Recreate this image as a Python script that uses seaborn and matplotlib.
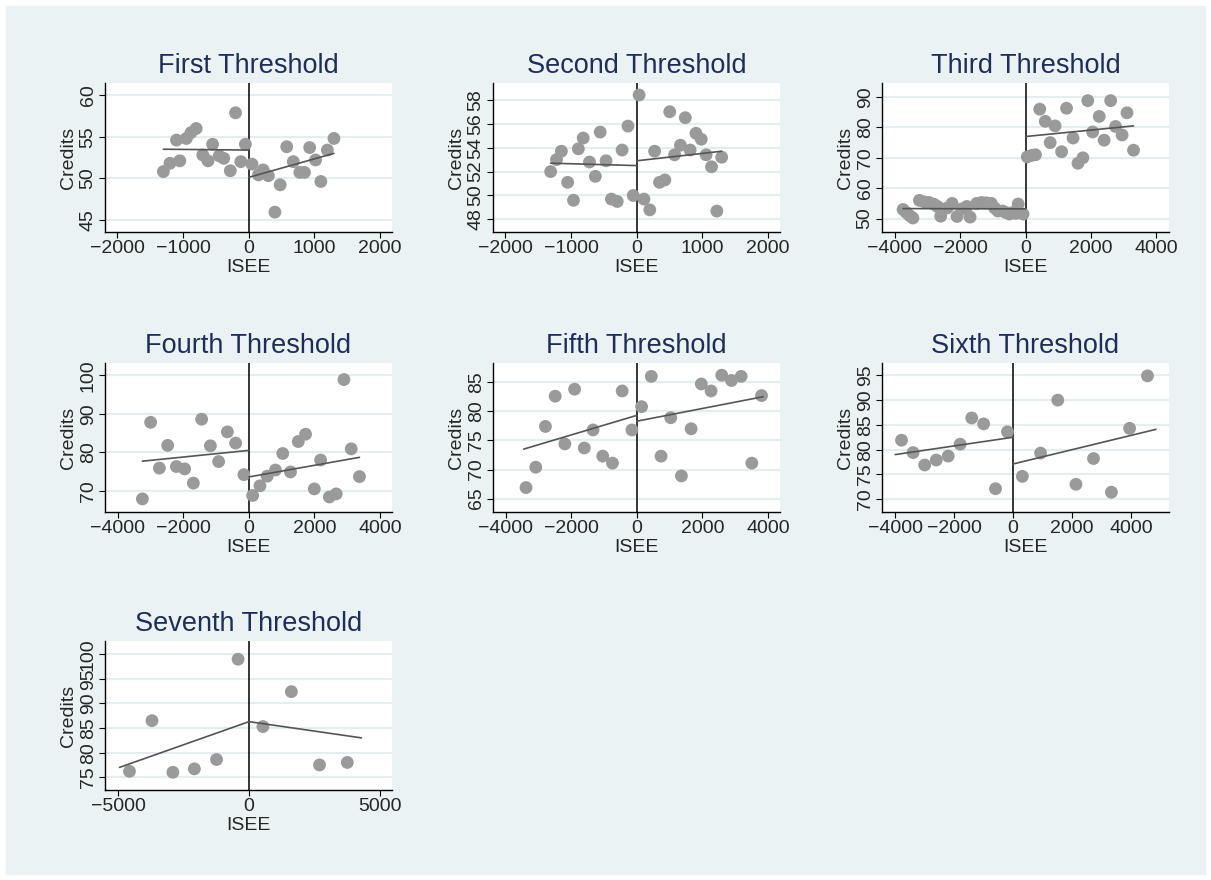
import numpy as np
import pandas as pd
import matplotlib
matplotlib.use("Agg")
import matplotlib.pyplot as plt
import seaborn as sns

# ── Data ─────────────────────────────────────────────────────────────────────
titles = ["First Threshold", "Second Threshold", "Third Threshold",
          "Fourth Threshold", "Fifth Threshold", "Sixth Threshold",
          "Seventh Threshold"]

x1 = [-1300, -1200, -1100, -1050, -950, -880, -800, -700, -620, -550, -450, -380, -280, -200, -120, -50,
      50, 150, 220, 300, 400, 480, 580, 680, 780, 850, 930, 1020, 1100, 1200, 1300]
y1 = [50.8, 51.8, 54.6, 52.1, 54.8, 55.5, 56.0, 52.8, 52.1, 54.1, 52.7, 52.4, 50.9, 57.9, 52.0, 54.1,
      51.7, 50.4, 51.0, 50.3, 45.9, 49.2, 53.8, 52.0, 50.7, 50.7, 53.7, 52.2, 49.6, 53.4, 54.8]

x2 = [-1311, -1222, -1148, -1052, -963, -889, -815, -719, -630, -556, -467, -385, -296, -222, -133, -52,
      37, 111, 200, 274, 348, 430, 504, 578, 667, 741, 815, 904, 985, 1059, 1141, 1222, 1296]
y2 = [52.0, 53.0, 53.7, 51.1, 49.6, 53.9, 54.8, 52.8, 51.6, 55.3, 52.9, 49.7, 49.5, 53.8, 55.8, 50.0,
      58.4, 49.7, 48.8, 53.7, 51.1, 51.3, 57.0, 53.4, 54.2, 56.5, 53.8, 55.2, 54.7, 53.4, 52.4, 48.7, 53.2]

x3 = [-3750, -3650, -3550, -3450, -3250, -3100, -2950, -2800, -2700, -2600, -2400, -2250, -2100, -1950,
      -1800, -1700, -1500, -1350, -1200, -1050, -950, -850, -700, -600, -500, -400, -300, -230, -80,
      50, 180, 300, 430, 600, 750, 900, 1100, 1250, 1450, 1600, 1750, 1900, 2050, 2250, 2400, 2600,
      2750, 2950, 3100, 3300]
y3 = [53.0, 52.0, 51.0, 50.2, 56.0, 55.5, 55.3, 54.7, 54.0, 50.8, 53.5, 55.0, 50.7, 53.2,
      54.0, 50.5, 55.0, 55.3, 55.2, 55.0, 53.5, 52.5, 52.5, 52.0, 51.5, 52.0, 51.7, 54.8, 51.5,
      70.3, 70.8, 71.0, 86.0, 82.0, 75.0, 80.5, 72.0, 86.3, 76.5, 68.2, 70.0, 88.8, 78.5, 83.6, 75.8, 88.8,
      80.3, 77.5, 84.8, 72.5]

x4 = [-3244, -2993, -2726, -2474, -2207, -1956, -1689, -1437, -1170, -919, -652, -400, -148,
      119, 341, 563, 815, 1037, 1274, 1511, 1733, 2000, 2193, 2459, 2667, 2904, 3126, 3378]
y4 = [67.9, 87.8, 75.9, 81.8, 76.3, 75.7, 72.0, 88.6, 81.7, 77.6, 85.3, 82.4, 74.2,
      68.8, 71.3, 73.8, 75.4, 79.7, 74.9, 82.8, 84.7, 70.5, 78.0, 68.4, 69.2, 98.9, 80.9, 73.7]

x5 = [-3378, -3081, -2785, -2489, -2193, -1896, -1600, -1333, -1037, -741, -444, -148,
      148, 444, 741, 1037, 1363, 1659, 1970, 2267, 2593, 2889, 3185, 3511, 3807]
y5 = [66.9, 70.4, 77.4, 82.6, 74.4, 83.8, 73.7, 76.8, 72.3, 71.1, 83.5, 76.8,
      80.8, 86.0, 72.3, 78.9, 68.9, 77.0, 84.7, 83.5, 86.2, 85.3, 86.0, 71.1, 82.7]

x6 = [-3787, -3393, -3000, -2607, -2202, -1798, -1404, -1000, -596, -191,
      315, 933, 1517, 2135, 2730, 3337, 3955, 4562]
y6 = [81.9, 79.4, 76.9, 77.9, 78.7, 81.1, 86.4, 85.2, 72.1, 83.6,
      74.6, 79.3, 90.0, 73.0, 78.2, 71.4, 84.3, 94.9]

x7 = [-4570, -3709, -2911, -2089, -1241, -418, 532, 1620, 2696, 3759]
y7 = [76.2, 86.5, 76.0, 76.7, 78.6, 99.0, 85.3, 92.4, 77.5, 78.0]

# fitted lines: (x_start, y_start, x_end, y_end) on each side of the cutoff
fit_left = [(-1300, 53.5, 0, 53.4), (-1311, 52.7, 0, 52.5), (-3750, 53.3, 0, 53.2),
            (-3244, 77.7, 0, 80.5), (-3450, 73.5, 0, 79.3), (-4000, 79.0, 0, 82.5),
            (-4950, 77.0, 0, 86.3)]
fit_right = [(0, 50.1, 1300, 53.0), (0, 52.9, 1296, 53.7), (0, 77.0, 3300, 80.5),
             (0, 73.6, 3378, 78.7), (0, 78.3, 3850, 82.5), (0, 77.1, 4850, 84.1),
             (0, 86.3, 4300, 83.0)]

xs = [x1, x2, x3, x4, x5, x6, x7]
ys = [y1, y2, y3, y4, y5, y6, y7]

xlims = [(-2190, 2185), (-2190, 2185), (-4395, 4385), (-4385, 4370),
         (-4385, 4370), (-4449, 5292), (-5506, 5468)]
ylims = [(43.5, 61.5), (46.95, 59.4), (45.6, 94.6), (64.5, 103.2),
         (62.7, 88.3), (67.4, 97.5), (72.4, 102.7)]
xticks = [[-2000, -1000, 0, 1000, 2000]] * 2 + [[-4000, -2000, 0, 2000, 4000]] * 4 + [[-5000, 0, 5000]]
yticks = [[45, 50, 55, 60], [48, 50, 52, 54, 56, 58], [50, 60, 70, 80, 90],
          [70, 80, 90, 100], [65, 70, 75, 80, 85], [70, 75, 80, 85, 90, 95],
          [75, 80, 85, 90, 95, 100]]

# ── Figure ───────────────────────────────────────────────────────────────────
W, H = 1211, 880
BG = "#EAF2F3"
sns.set_style("white")
plt.rcParams["font.family"] = ["Liberation Sans", "DejaVu Sans"]

fig = plt.figure(figsize=(W / 100, H / 100), dpi=100, facecolor="white")
fig.patches.append(plt.Rectangle((6 / W, 6 / H), 1 - 12 / W, 1 - 12 / H,
                                 transform=fig.transFigure, color=BG, zorder=-1))

col_left = [105, 493, 882]
row_top = [83, 363, 641]
aw, ah = 287, 149

for i in range(7):
    r, c = divmod(i, 3)
    L, T = col_left[c], row_top[r]
    ax = fig.add_axes([L / W, 1 - (T + ah) / H, aw / W, ah / H])
    ax.set_facecolor("white")
    for yt in yticks[i]:
        ax.axhline(yt, color="#E4EEF0", lw=1.6, zorder=0)
    ax.axvline(0, color="black", lw=1.1, zorder=2)
    df = pd.DataFrame({"ISEE": xs[i], "Credits": ys[i]})
    sns.scatterplot(data=df, x="ISEE", y="Credits", ax=ax, color="#9a9a9a",
                    s=85, edgecolor="none", zorder=3)
    for seg in (fit_left[i], fit_right[i]):
        sns.lineplot(x=[seg[0], seg[2]], y=[seg[1], seg[3]], ax=ax,
                     color="#555555", lw=1.2, zorder=4)
    ax.set_xlim(*xlims[i])
    ax.set_ylim(*ylims[i])
    ax.set_xticks(xticks[i])
    ax.set_yticks(yticks[i])
    ax.set_yticklabels([str(t) for t in yticks[i]], rotation=90, va="center")
    ax.tick_params(labelsize=14, length=4, color="black", direction="out",
                   left=True, bottom=True, pad=2)
    for s in ["top", "right"]:
        ax.spines[s].set_visible(False)
    for s in ["left", "bottom"]:
        ax.spines[s].set_color("black")
        ax.spines[s].set_linewidth(1.0)
    ax.set_xlabel("ISEE", fontsize=14, labelpad=1)
    ax.set_ylabel("Credits", fontsize=14, labelpad=2)
    ax.set_title(titles[i], fontsize=19.5, color="#1E2D5A", pad=7)

fig.savefig("out.png", dpi=100, facecolor="white")
